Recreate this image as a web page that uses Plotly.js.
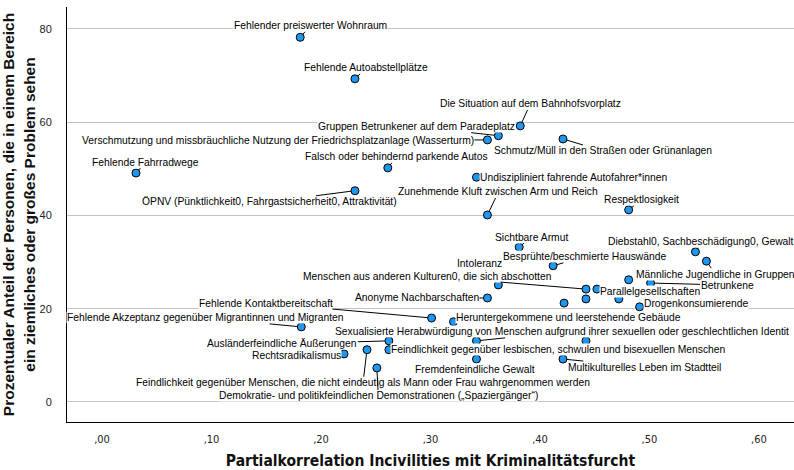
<!DOCTYPE html>
<html>
<head>
<meta charset="utf-8">
<script src="https://cdn.plot.ly/plotly-3.0.1.min.js"></script>
<style>html,body{margin:0;padding:0;background:#fff;}#chart{width:794px;height:470px;}</style>
</head>
<body>
<div id="chart"></div>
<script>
// Data: partial correlation (x) and percent seeing a problem (y)
const xValues = [0.181,0.231,0.382,0.362,0.352,0.421,0.031,0.261,0.231,0.342,0.352,0.481,0.381,0.542,0.552,0.412,0.362,0.442,0.452,0.481,0.501,0.352,0.422,0.442,0.472,0.491,0.301,0.321,0.182,0.262,0.342,0.442,0.242,0.262,0.221,0.342,0.421,0.251];
const yValues = [78.2,69.3,59.2,57.1,56.2,56.4,49.1,50.2,45.3,48.2,40.1,41.2,33.2,32.2,30.2,29.2,25.1,24.2,24.2,26.2,25.5,22.3,21.2,22.1,22.1,20.4,18.0,17.2,16.1,13.1,13.1,13.1,11.2,11.2,10.3,9.2,9.2,7.3];
const pointLabels = [
  "Fehlender preiswerter Wohnraum",
  "Fehlende Autoabstellplätze",
  "Die Situation auf dem Bahnhofsvorplatz",
  "Gruppen Betrunkener auf dem Paradeplatz",
  "Verschmutzung und missbräuchliche Nutzung der Friedrichsplatzanlage (Wasserturm)",
  "Schmutz/Müll in den Straßen oder Grünanlagen",
  "Fehlende Fahrradwege",
  "Falsch oder behindernd parkende Autos",
  "ÖPNV (Pünktlichkeit0, Fahrgastsicherheit0, Attraktivität)",
  "Undiszipliniert fahrende Autofahrer*innen",
  "Zunehmende Kluft zwischen Arm und Reich",
  "Respektlosigkeit",
  "Sichtbare Armut",
  "Diebstahl0, Sachbeschädigung0, Gewalt",
  "Männliche Jugendliche in Gruppen",
  "Besprühte/beschmierte Hauswände",
  "Intoleranz",
  "Menschen aus anderen Kulturen0, die sich abschotten",
  "Parallelgesellschaften",
  "",
  "Betrunkene",
  "Anonyme Nachbarschaften",
  "",
  "",
  "",
  "Drogenkonsumierende",
  "Fehlende Kontaktbereitschaft",
  "Heruntergekommene und leerstehende Gebäude",
  "Fehlende Akzeptanz gegenüber Migrantinnen und Migranten",
  "Ausländerfeindliche Äußerungen",
  "Sexualisierte Herabwürdigung von Menschen aufgrund ihrer sexuellen oder geschlechtlichen Identit",
  "",
  "Feindlichkeit gegenüber Menschen, die nicht eindeutig als Mann oder Frau wahrgenommen werden",
  "Feindlichkeit gegenüber lesbischen, schwulen und bisexuellen Menschen",
  "Rechtsradikalismus",
  "Fremdenfeindliche Gewalt",
  "Multikulturelles Leben im Stadtteil",
  "Demokratie- und politikfeindlichen Demonstrationen („Spaziergänger“)"
];
const xTickVals = [0,0.1,0.2,0.3,0.4,0.5,0.6];
const xTickText = [",00",",10",",20",",30",",40",",50",",60"];
const yTickVals = [0,20,40,60,80];
const yTickText = ["0","20","40","60","80"];

// Label placement (pixel offsets of label centre from its point) - layout only
const labelDx = [10,11.5,10,-81.5,-209.5,40,10,9,-85.5,97.5,11,13,12,5.5,9,31,-18.5,-158.5,53,0,76.5,-70.5,0,0,0,56,-165.5,115.5,-95.5,-106.5,86,0,-4,170,-48,-1,81.5,1.5];
const labelDy = [-11.5,-11,-22,-9,1,12,-11,-11,11,0.5,-23,-10,-10,-10,13,-9,-21,-13,2,0,2,0,0,0,0,-3,-15,-4,-9,3,-9,0,33,0,2,10,8,28];

const labelFont = {family: "Liberation Sans, Arial, sans-serif", size: 10.3, color: "#000"};
const annotations = [];
pointLabels.forEach((t, i) => {
  if (!t) return;
  annotations.push({
    x: xValues[i], y: yValues[i], xref: "x", yref: "y",
    text: t, showarrow: true, arrowhead: 0, arrowwidth: 1, arrowcolor: "#000",
    standoff: 4, ax: labelDx[i], ay: labelDy[i],
    bgcolor: "#fff", borderpad: 0, font: labelFont
  });
});

const trace = {
  type: "scatter", mode: "markers",
  x: xValues, y: yValues, text: pointLabels, hoverinfo: "text",
  marker: {size: 8, color: "#1f97f0", line: {color: "#000", width: 1}}
};

const layout = {
  width: 794, height: 470,
  margin: {l: 67, r: 0, t: 7, b: 48},
  paper_bgcolor: "#fff", plot_bgcolor: "#fff",
  showlegend: false,
  xaxis: {
    range: [-0.032, 0.632], tickvals: xTickVals, ticktext: xTickText,
    showgrid: false, zeroline: false, showline: true, linecolor: "#000", linewidth: 1,
    ticks: "", ticklabelstandoff: 7,
    tickfont: {family: "Liberation Sans Narrow, DejaVu Sans Condensed, Arial, sans-serif", size: 11, color: "#222"},
    title: {text: "Partialkorrelation Incivilities mit Kriminalitätsfurcht", standoff: 12,
      font: {family: "Liberation Sans Narrow, DejaVu Sans Condensed, Arial, sans-serif", size: 15.5, color: "#111", weight: "bold"}}
  },
  yaxis: {
    range: [-4.3, 84.7], tickvals: yTickVals, ticktext: yTickText,
    showgrid: true, gridcolor: "#c4c4c4", gridwidth: 1,
    zeroline: false, showline: true, linecolor: "#000", linewidth: 1,
    ticks: "", ticklabelstandoff: 12,
    tickfont: {family: "Liberation Sans, Arial, sans-serif", size: 11, color: "#222"},
    title: {text: "Prozentualer Anteil der Personen, die in einem Bereich<br>ein ziemliches oder großes Problem sehen", standoff: 0,
      font: {family: "Liberation Sans, Arial, sans-serif", size: 15.5, color: "#111", weight: "bold"}}
  },
  annotations: annotations
};

Plotly.newPlot("chart", [trace], layout, {displayModeBar: false, staticPlot: true});
</script>
</body>
</html>
